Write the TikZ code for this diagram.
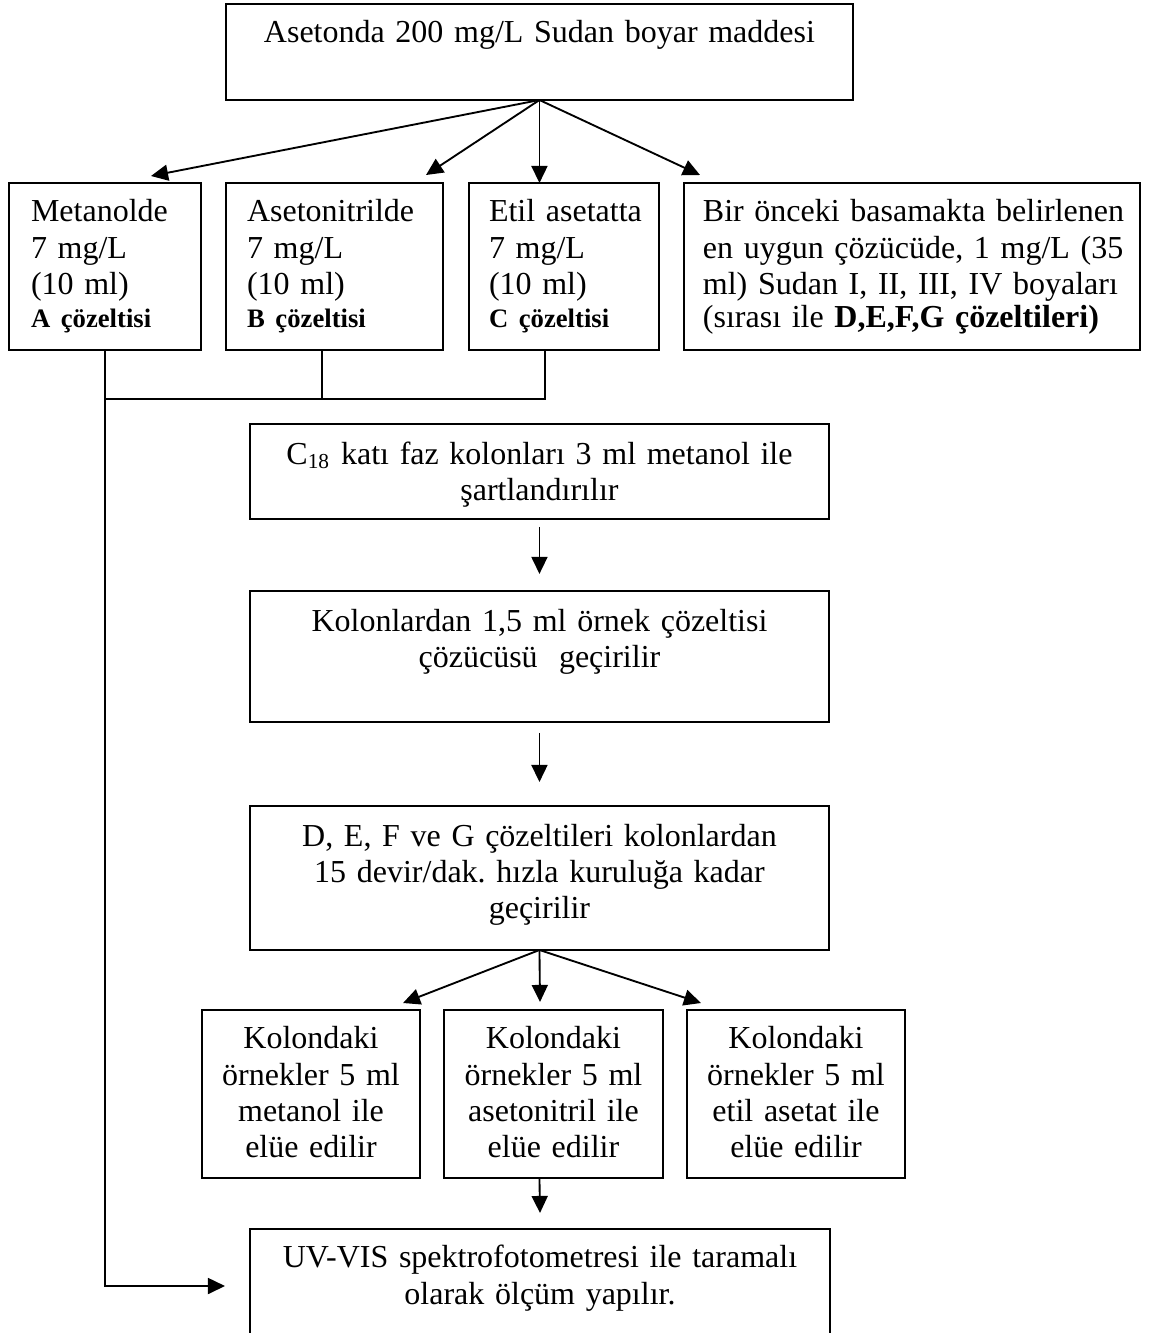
\documentclass[tikz,border=0pt]{standalone}
\usepackage{fontspec}
\setmainfont{Liberation Serif}[WordSpace=0.9]
\usetikzlibrary{arrows.meta}
\frenchspacing

\begin{document}
\begin{tikzpicture}[x=0.375pt, y=-0.375pt,
    kutu/.style={draw, line width=0.8pt, anchor=north west,
                 inner ysep=0pt, outer sep=0pt,
                 font=\fontsize{12}{13.6}\selectfont},
    ortala/.style={kutu, align=center, inner xsep=0pt},
    sola/.style={kutu, align=left},
    ok/.style={line width=0.7pt, -{Triangle[length=6.4pt, width=6pt]}},
    hat/.style={line width=0.6pt},
    ]
\fill[white] (0,0) rectangle (1150,1333);
\useasboundingbox (0,0) rectangle (1150,1333);

% ana cozelti
\node[ortala, text width=235.1pt, text height=14.6pt, text depth=21.4pt]
    (ust) at (226,4) {Asetonda 200 mg/L Sudan boyar maddesi};

% ikinci sira
\node[sola, inner xsep=8.25pt, text width=55.5pt, text height=14.6pt, text depth=48pt]
    (A) at (9,183) {Metanolde\\ 7 mg/L\\ (10 ml)\\[-1.2pt]
    {\fontsize{10}{11.5}\selectfont\bfseries A çözeltisi}};
\node[sola, inner xsep=7.9pt, text width=65.6pt, text height=14.6pt, text depth=48pt]
    (B) at (226,183) {Asetonitrilde\\ 7 mg/L\\ (10 ml)\\[-1.2pt]
    {\fontsize{10}{11.5}\selectfont\bfseries B çözeltisi}};
\node[sola, inner xsep=7.5pt, text width=56.25pt, text height=14.6pt, text depth=48pt]
    (C) at (469,183) {\mbox{Etil asetatta}\\ 7 mg/L\\ (10 ml)\\[-1.2pt]
    {\fontsize{10}{11.5}\selectfont\bfseries C çözeltisi}};
\node[sola, inner xsep=7.1pt, text width=156.8pt, text height=14.6pt, text depth=48pt]
    (D) at (684,183) {\mbox{Bir önceki basamakta belirlenen}\\
    \mbox{en uygun çözücüde, 1 mg/L (35}\\
    \mbox{ml) Sudan I, II, III, IV boyaları}\\[-1.2pt]
    \mbox{(sırası ile \textbf{D,E,F,G çözeltileri)}}};

% kolon islemleri
\node[ortala, text width=217.1pt, text height=15pt, text depth=20.6pt]
    (kolon) at (250,424) {C\textsubscript{18} katı faz kolonları 3 ml metanol ile\\ şartlandırılır};
\node[ortala, text width=217.1pt, text height=15pt, text depth=34.1pt]
    (gecir) at (250,591) {Kolonlardan 1,5 ml örnek çözeltisi\\ çözücüsü~ geçirilir};
\node[ortala, text width=217.1pt, text height=15pt, text depth=39pt]
    (kurut) at (250,806) {D, E, F ve G çözeltileri kolonlardan\\
    15 devir/dak. hızla kuruluğa kadar\\ geçirilir};

% elusyon
\node[ortala, text width=81.75pt, text height=14.6pt, text depth=48.4pt]
    (e1) at (202,1010) {Kolondaki\\ örnekler 5 ml\\ metanol ile\\ elüe edilir};
\node[ortala, text width=82.1pt, text height=14.6pt, text depth=48.4pt]
    (e2) at (444,1010) {Kolondaki\\ örnekler 5 ml\\ asetonitril ile\\ elüe edilir};
\node[ortala, text width=81.75pt, text height=14.6pt, text depth=48.4pt]
    (e3) at (687,1010) {Kolondaki\\ örnekler 5 ml\\ etil asetat ile\\ elüe edilir};

% olcum
\node[ortala, text width=217.5pt, text height=14.6pt, text depth=28.9pt]
    (olcum) at (250,1229) {UV-VIS spektrofotometresi ile taramalı\\ olarak ölçüm yapılır.};

% ok uclari
\coordinate (uA) at (151,176);
\coordinate (uB) at (426,175);
\coordinate (uD) at (700,175);
\coordinate (bB) at (322,350);
\coordinate (bC) at (545,350);
\coordinate (birles) at (105,399);
\coordinate (sonuc) at (225,1286);
\coordinate (u1) at (403,1003);
\coordinate (u2) at (540,1002);
\coordinate (u3) at (701,1003);

\draw[ok] (ust.south) -- (uA);
\draw[ok] (ust.south) -- (uB);
\draw[ok] (ust.south) -- (ust.south |- C.north);
\draw[ok] (ust.south) -- (uD);

\draw[hat] (A.south) -- (birles) -| (bC);
\draw[hat] (bB) -- (bB |- birles);
\draw[ok] (birles) |- (sonuc);

\draw[ok] ([yshift=-3pt]kolon.south) -- ([yshift=6.4pt]gecir.north);
\draw[ok] ([yshift=-4.1pt]gecir.south) -- ([yshift=9pt]kurut.north);

\draw[ok] (kurut.south) -- (u1);
\draw[ok] (kurut.south) -- (u2);
\draw[ok] (kurut.south) -- (u3);

\draw[ok] (kurut.south |- e2.south) -- ([yshift=6pt]olcum.north);
\end{tikzpicture}
\end{document}
